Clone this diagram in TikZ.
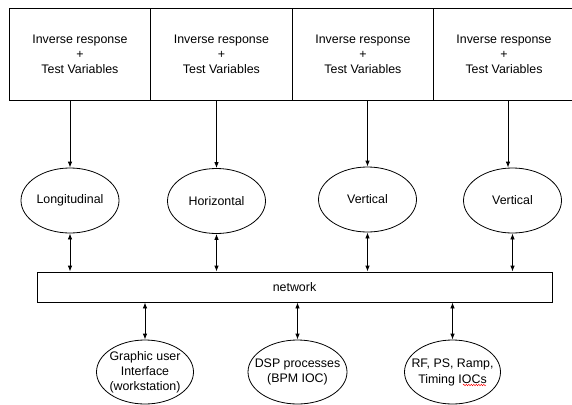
\documentclass[tikz,border=0pt]{standalone}
\usepackage{fontspec}
\setmainfont{Liberation Sans}
\usetikzlibrary{arrows.meta,shapes.geometric,decorations.pathmorphing}
\begin{document}
\begin{tikzpicture}[x=1pt,y=-1pt,
  font=\fontsize{12.4}{15.2}\selectfont,
  box/.style={draw, line width=0.8pt, minimum height=92pt, inner sep=0pt, align=center, anchor=north west},
  ell/.style={draw, ellipse, line width=0.8pt, inner sep=0pt, minimum width=98pt, minimum height=65pt},
  lbl/.style={align=center, inner sep=0pt},
  arr/.style={line width=0.8pt, -{Latex[length=6pt,width=4.5pt]}},
  darr/.style={line width=0.8pt, {Latex[length=6pt,width=4.5pt]}-{Latex[length=6pt,width=4.5pt]}},
]
\useasboundingbox (0,0) rectangle (572,404);
\clip (0,0) rectangle (572,404);
% top boxes
\node[box, minimum width=141pt] (b1) at (9,8) {Inverse response\\+\\Test Variables};
\node[box, minimum width=142pt] (b2) at (150,8) {Inverse response\\+\\Test Variables};
\node[box, minimum width=141pt] (b3) at (292,8) {Inverse response\\+\\Test Variables};
\node[box, minimum width=146pt] (b4) at (433,8) {};
\node[lbl] (b4t) at (504,54) {Inverse response\\+\\Test Variables};
% middle ellipses
\node[ell] (e1) at (70,200.5) {Longitudinal};
\node[ell] (e2) at (216.5,201) {Horizontal};
\node[ell] (e3) at (367.5,199.5) {Vertical};
\node[ell] (e4) at (512.5,200.5) {Vertical};
% network
\node[draw, line width=0.8pt, minimum width=515pt, minimum height=30pt, inner sep=0pt] (net) at (294.5,287) {network};
% bottom ellipses
\node[ell, minimum width=97pt, minimum height=64pt] (g) at (145,372) {};
\node[lbl] (gt) at (g) {Graphic user\\Interface\\(workstation)};
\node[ell, minimum width=99pt, minimum height=64pt] (d) at (297.5,372) {};
\node[lbl] (dt) at (d) {DSP processes\\(BPM IOC)};
\node[ell, minimum width=96pt, minimum height=64pt] (r) at (452.5,372) {};
\node[lbl] (rt) at ([yshift=-0.5pt]r.center) {RF, PS, Ramp,\\Timing IOCs};
\coordinate (sq1) at (463,385);
\coordinate (sq2) at (486,385);
\draw[red, line width=0.4pt, decorate, decoration={snake, amplitude=0.8pt, segment length=2.5pt}] (sq1) -- (sq2);
% top arrows
\coordinate (a4) at (508,0);
\draw[arr] (b1.south -| e1) -- (e1.north);
\draw[arr] (b2.south -| e2) -- (e2.north);
\draw[arr] (b3.south -| e3) -- (e3.north);
\draw[arr] (b4.south -| a4) -- (a4 |- e4.north);
% middle double arrows
\draw[darr] (e1.south) -- (e1.south |- net.north);
\draw[darr] (e2.south) -- (e2.south |- net.north);
\draw[darr] (e3.south) -- (e3.south |- net.north);
\draw[darr] (e4.south) -- (e4.south |- net.north);
% bottom double arrows
\draw[darr] (g.north |- net.south) -- (g.north);
\draw[darr] (d.north |- net.south) -- (d.north);
\draw[darr] (r.north |- net.south) -- (r.north);
\end{tikzpicture}
\end{document}
